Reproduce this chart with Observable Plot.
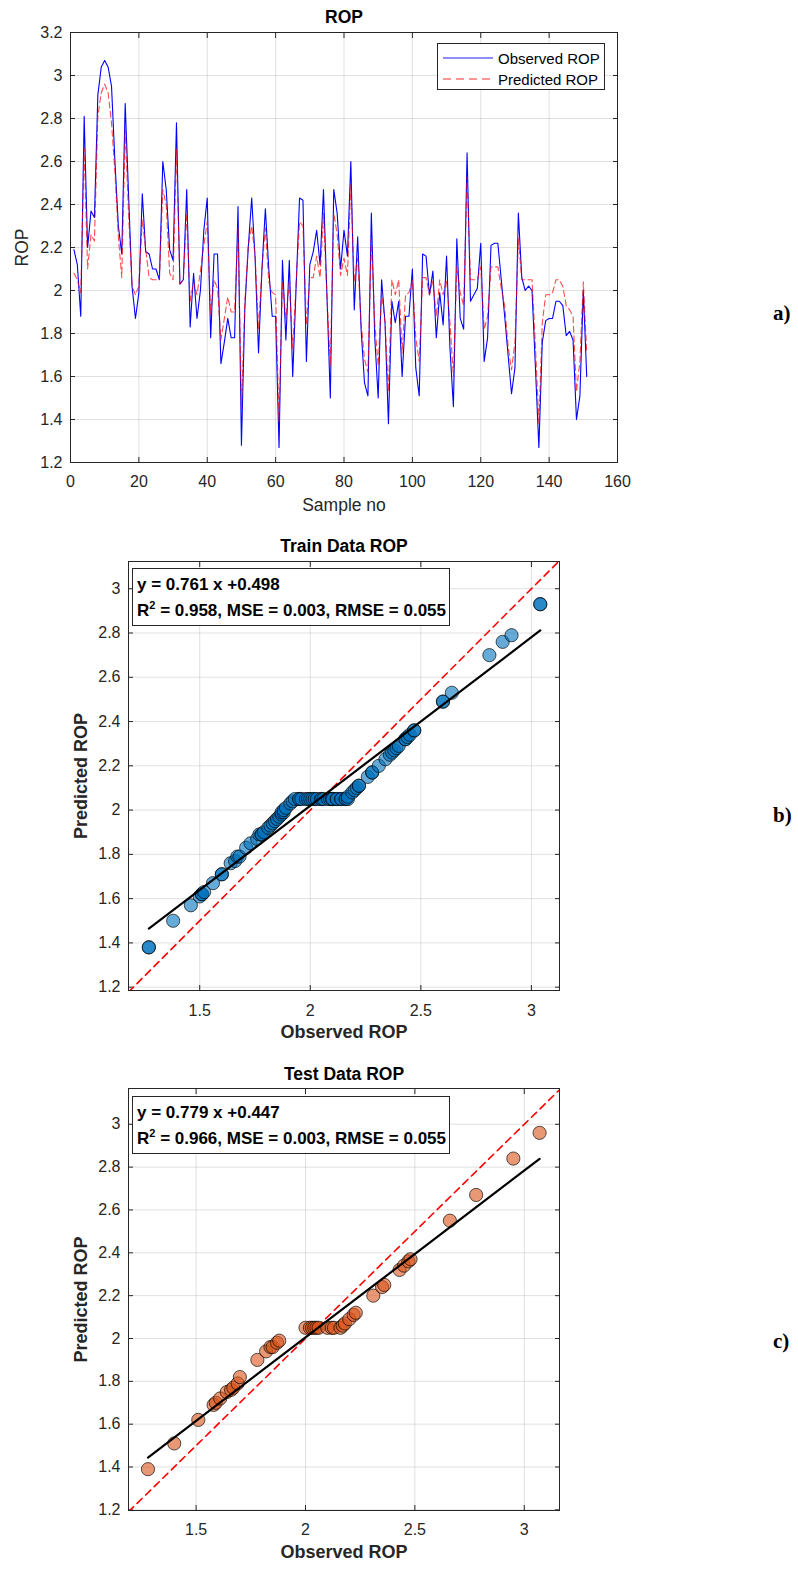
<!DOCTYPE html>
<html><head><meta charset="utf-8">
<script src="https://cdn.jsdelivr.net/npm/d3@7"></script>
<script src="https://cdn.jsdelivr.net/npm/@observablehq/plot@0.6"></script>
<style>
body{margin:0;background:#fff;}
#wrap{position:relative;width:798px;height:1574px;overflow:hidden;font-family:"Liberation Sans",Arial,sans-serif;background:#fff;}
.chart{position:absolute;left:0;}
.tag{position:absolute;font-family:"Liberation Serif","Times New Roman",serif;font-weight:bold;font-size:21px;line-height:24px;color:#000;}
.eqbox{position:absolute;background:#fff;border:1px solid #262626;font-weight:bold;font-size:17px;line-height:26px;color:#000;box-sizing:border-box;padding:3px 0 0 4px;white-space:nowrap;}
.eqbox sup{font-size:11px;line-height:0;vertical-align:7px;}
.legend{position:absolute;background:#fff;border:1px solid #262626;box-sizing:border-box;font-size:15px;color:#000;}
.legend .row{position:absolute;left:0;height:20px;display:flex;align-items:center;}
.legend svg{display:block;}
</style>
</head><body>
<div id="wrap"></div>
<script>
// ---------- data ----------
const observedROP = [2.19,2.12,1.88,2.81,2.20,2.37,2.34,2.91,3.04,3.07,3.04,2.95,2.60,2.30,2.17,2.87,2.44,2.02,1.87,1.99,
2.45,2.18,2.17,2.10,2.10,2.05,2.60,2.47,2.19,2.14,2.78,2.03,2.05,2.47,1.83,2.08,1.87,2.00,2.28,2.43,
1.78,2.17,2.17,1.66,1.76,1.87,1.78,1.78,2.39,1.28,1.92,2.20,2.43,2.15,1.71,2.10,2.38,2.10,1.88,1.88,
1.27,2.14,1.77,2.14,1.60,2.02,2.43,2.42,1.67,2.12,2.18,2.28,2.12,2.47,1.98,1.50,2.47,2.36,2.10,2.28,
2.16,2.60,1.91,2.25,1.82,1.57,1.51,2.36,1.78,1.50,2.05,1.85,1.38,1.95,1.85,1.95,1.60,1.88,1.88,2.10,
1.64,1.51,2.17,2.16,1.98,2.09,1.78,1.99,1.84,2.16,1.73,1.46,2.24,1.87,1.82,2.64,1.95,1.98,2.01,2.22,
1.67,1.78,2.21,2.22,2.22,2.05,1.88,1.70,1.52,1.64,2.36,2.06,2.00,2.02,2.00,1.64,1.27,1.76,1.86,1.87,
1.87,1.95,1.95,1.93,1.79,1.81,1.77,1.40,1.51,2.00,1.60];
const predictedROP = [2.08,2.05,1.99,2.66,2.10,2.26,2.23,2.81,2.92,2.96,2.92,2.78,2.55,2.25,2.06,2.75,2.35,2.02,1.98,2.02,
2.33,2.19,2.06,2.05,2.05,2.05,2.47,2.40,2.08,2.05,2.66,2.03,2.05,2.36,1.95,2.04,1.98,2.09,2.21,2.32,
1.89,2.05,2.01,1.77,1.87,1.97,1.90,1.90,2.29,1.45,1.95,2.21,2.30,2.16,1.82,2.10,2.29,2.04,1.99,1.98,
1.39,2.04,1.87,2.04,1.73,2.04,2.32,2.30,1.84,2.06,2.06,2.16,2.06,2.36,1.98,1.65,2.36,2.26,2.07,2.15,
2.07,2.49,2.04,2.15,1.85,1.68,1.62,2.24,1.85,1.65,1.99,1.85,1.53,2.05,1.98,2.05,1.71,1.98,1.99,2.05,
1.78,1.67,2.06,2.06,1.98,2.05,1.88,2.05,1.98,2.05,1.85,1.60,2.11,1.99,1.93,2.53,2.05,2.05,2.05,2.11,
1.82,1.88,2.11,2.11,2.11,2.01,1.93,1.74,1.63,1.76,2.24,2.05,2.05,2.05,2.05,1.74,1.38,1.85,1.98,1.98,
1.99,2.05,2.05,2.02,1.93,1.91,1.88,1.53,1.67,2.04,1.71];

const trainObserved = [1.27,1.27,1.38,1.46,1.50,1.51,1.51,1.52,1.56,1.60,1.60,1.64,1.66,1.67,1.68,1.71,1.73,1.76,1.77,1.78,
1.78,1.79,1.81,1.82,1.83,1.84,1.85,1.86,1.87,1.87,1.88,1.88,1.89,1.91,1.92,1.93,1.95,1.95,1.96,1.98,
1.99,2.00,2.01,2.02,2.03,2.05,2.05,2.06,2.08,2.09,2.10,2.10,2.10,2.12,2.12,2.14,2.14,2.16,2.16,2.17,
2.17,2.19,2.20,2.21,2.22,2.22,2.26,2.28,2.28,2.31,2.34,2.36,2.37,2.38,2.39,2.40,2.43,2.43,2.44,2.45,
2.47,2.47,2.60,2.60,2.64,2.81,2.87,2.91,3.04,3.04];
const trainPredicted = [1.38,1.38,1.50,1.57,1.61,1.62,1.62,1.63,1.67,1.71,1.71,1.76,1.77,1.79,1.79,1.83,1.85,1.87,1.89,1.89,
1.89,1.90,1.92,1.93,1.94,1.95,1.96,1.97,1.98,1.99,1.99,2.00,2.01,2.03,2.04,2.05,2.05,2.05,2.05,2.05,
2.05,2.05,2.05,2.05,2.05,2.05,2.05,2.05,2.05,2.05,2.05,2.05,2.05,2.05,2.05,2.05,2.05,2.05,2.05,2.05,
2.06,2.08,2.09,2.10,2.11,2.11,2.15,2.17,2.17,2.20,2.23,2.25,2.26,2.27,2.28,2.29,2.32,2.32,2.33,2.34,
2.36,2.36,2.49,2.49,2.53,2.70,2.76,2.79,2.93,2.93];

const testObserved = [1.28,1.40,1.51,1.58,1.59,1.61,1.64,1.66,1.67,1.69,1.70,1.78,1.82,1.84,1.85,1.87,1.88,2.00,2.02,2.03,
2.04,2.05,2.06,2.10,2.12,2.13,2.16,2.17,2.18,2.20,2.22,2.23,2.31,2.35,2.36,2.43,2.45,2.47,2.48,2.66,
2.78,2.95,3.07];
const testPredicted = [1.39,1.51,1.62,1.69,1.70,1.72,1.75,1.76,1.77,1.79,1.82,1.90,1.94,1.96,1.96,1.98,1.99,2.05,2.05,2.05,
2.05,2.05,2.05,2.05,2.05,2.05,2.05,2.06,2.07,2.09,2.11,2.12,2.20,2.24,2.25,2.32,2.34,2.36,2.37,2.55,
2.67,2.84,2.96];

// fit coefficients [slope, intercept] and stats [R2, MSE, RMSE]
const trainFit = [0.761, 0.498];
const trainStats = [0.958, 0.003, 0.055];
const testFit = [0.779, 0.447];
const testStats = [0.966, 0.003, 0.055];

// tick labels
const sampleTicks = [0,20,40,60,80,100,120,140,160];
const ropTicks = [1.2,1.4,1.6,1.8,2,2.2,2.4,2.6,2.8,3,3.2];
const scatterXTicks = [1.5,2,2.5,3];
const scatterYTicks = [1.2,1.4,1.6,1.8,2,2.2,2.4,2.6,2.8,3];

const seriesNames = ["Observed ROP","Predicted ROP"];
const panelTags = ["a)","b)","c)"];

// ---------- helpers ----------
const wrap = document.getElementById("wrap");
const fmt = d => String(+(+d).toFixed(1));
const INK = "#262626";

function matlabAxes(xTicks, yTicks, gapX, gapY) {
  const T = -5;
  return [
    Plot.gridX(xTicks, {stroke: "#000", strokeOpacity: 0.12}),
    Plot.gridY(yTicks, {stroke: "#000", strokeOpacity: 0.12}),
    Plot.axisX(xTicks, {anchor: "bottom", tickSize: T, tickPadding: gapX - T, tickFormat: fmt, label: null, fontSize: 16}),
    Plot.axisX(xTicks, {anchor: "top", tickSize: T, tickFormat: () => "", label: null}),
    Plot.axisY(yTicks, {anchor: "left", tickSize: T, tickPadding: gapY - T, tickFormat: fmt, label: null, fontSize: 16}),
    Plot.axisY(yTicks, {anchor: "right", tickSize: T, tickFormat: () => "", label: null}),
    Plot.frame({stroke: INK, strokeWidth: 1})
  ];
}

function place(node, top) {
  node.classList.add("chart");
  node.style.top = top + "px";
  wrap.appendChild(node);
}

const baseStyle = {fontFamily: "'Liberation Sans', Arial, sans-serif", fontSize: "16px", color: INK, background: "transparent", overflow: "visible"};

// ---------- chart a ----------
const rows = observedROP.map((v, i) => ({sample: i + 1, observed: v, predicted: predictedROP[i]}));

const chartA = Plot.plot({
  width: 798, height: 520,
  marginLeft: 70, marginRight: 181, marginTop: 32, marginBottom: 58,
  style: baseStyle,
  x: {domain: [0, 160]},
  y: {domain: [1.2, 3.2]},
  marks: [
    ...matlabAxes(sampleTicks, ropTicks, 13, 8),
    Plot.line(rows, {x: "sample", y: "observed", stroke: "#0000ff", strokeWidth: 1.1}),
    Plot.line(rows, {x: "sample", y: "predicted", stroke: "#ff0000", strokeOpacity: 0.7, strokeWidth: 1.1, strokeDasharray: "6,3.5"}),
    Plot.text(["ROP"], {frameAnchor: "top", lineAnchor: "middle", textAnchor: "middle", dy: -15.5, fontWeight: "bold", fontSize: 17.5, fill: "#000"}),
    Plot.text(["Sample no"], {frameAnchor: "bottom", lineAnchor: "middle", textAnchor: "middle", dy: 43, fontSize: 17.5, fill: INK}),
    Plot.text(["ROP"], {frameAnchor: "left", lineAnchor: "middle", textAnchor: "middle", dx: -48, rotate: -90, fontSize: 17.5, fill: INK})
  ]
});
place(chartA, 0);

// legend
const legend = document.createElement("div");
legend.className = "legend";
Object.assign(legend.style, {left: "437px", top: "43px", width: "168px", height: "47px"});
const legendStyles = [
  {stroke: "#0000ff", opacity: 0.6, dash: null},
  {stroke: "#ff0000", opacity: 0.55, dash: "8,5"}
];
seriesNames.forEach((name, i) => {
  const row = document.createElement("div");
  row.className = "row";
  row.style.top = (i === 0 ? 4 : 25) + "px";
  const s = legendStyles[i];
  row.innerHTML = `<svg width="60" height="20"><line x1="5" x2="55" y1="10" y2="10" stroke="${s.stroke}" stroke-opacity="${s.opacity}" stroke-width="1.6" ${s.dash ? `stroke-dasharray="${s.dash}"` : ""}/></svg><span>${name}</span>`;
  legend.appendChild(row);
});
wrap.appendChild(legend);

// ---------- scatter charts ----------
function scatterChart({obs, pred, fit, title, fill, height, marginTop, marginBottom, xDomain, yDomain, gapX, titleDy}) {
  const pts = obs.map((o, i) => ({o, p: pred[i]}));
  const ext = d3.extent(obs);
  const fitLine = ext.map(x => ({x, y: fit[0] * x + fit[1]}));
  const lo = Math.min(xDomain[0], yDomain[0]), hi = Math.max(xDomain[1], yDomain[1]);
  const diag = [lo, hi].map(v => ({x: v, y: v}));
  return Plot.plot({
    width: 798, height,
    marginLeft: 128, marginRight: 239, marginTop, marginBottom,
    style: baseStyle,
    x: {domain: xDomain},
    y: {domain: yDomain},
    marks: [
      ...matlabAxes(scatterXTicks, scatterYTicks, gapX, 8),
      Plot.line(diag, {x: "x", y: "y", stroke: "#ff0000", strokeWidth: 1.6, strokeDasharray: "7,5", clip: true}),
      Plot.dot(pts, {x: "o", y: "p", r: 6.6, fill, fillOpacity: 0.6, stroke: "#000", strokeOpacity: 0.65, strokeWidth: 1}),
      Plot.line(fitLine, {x: "x", y: "y", stroke: "#000", strokeWidth: 2.2}),
      Plot.text([title], {frameAnchor: "top", lineAnchor: "middle", textAnchor: "middle", dy: titleDy, fontWeight: "bold", fontSize: 17.5, fill: "#000"}),
      Plot.text(["Observed ROP"], {frameAnchor: "bottom", lineAnchor: "middle", textAnchor: "middle", dy: 42, fontWeight: "bold", fontSize: 18, fill: INK}),
      Plot.text(["Predicted ROP"], {frameAnchor: "left", lineAnchor: "middle", textAnchor: "middle", dx: -47, rotate: -90, fontWeight: "bold", fontSize: 18, fill: INK})
    ]
  });
}

const chartB = scatterChart({
  obs: trainObserved, pred: trainPredicted, fit: trainFit, title: "Train Data ROP", fill: "#0072BD",
  height: 520, marginTop: 41, marginBottom: 50,
  xDomain: [1.178, 3.127], yDomain: [1.185, 3.123], gapX: 14, titleDy: -15
});
place(chartB, 520);

const chartC = scatterChart({
  obs: testObserved, pred: testPredicted, fit: testFit, title: "Test Data ROP", fill: "#D95319",
  height: 534, marginTop: 48, marginBottom: 64,
  xDomain: [1.191, 3.161], yDomain: [1.197, 3.167], gapX: 13, titleDy: -14.5
});
place(chartC, 1040);

// equation boxes
function eqBox(fit, stats, top) {
  const d = document.createElement("div");
  d.className = "eqbox";
  Object.assign(d.style, {left: "132px", top: top + "px", width: "318px", height: "58px"});
  d.innerHTML = `<div>y = ${fit[0].toFixed(3)} x +${fit[1].toFixed(3)}</div>` +
    `<div>R<sup>2</sup> = ${stats[0].toFixed(3)}, MSE = ${stats[1].toFixed(3)}, RMSE = ${stats[2].toFixed(3)}</div>`;
  wrap.appendChild(d);
}
eqBox(trainFit, trainStats, 568);
eqBox(testFit, testStats, 1096);

// panel tags
const tagTops = [301, 803, 1329];
panelTags.forEach((t, i) => {
  const d = document.createElement("div");
  d.className = "tag";
  d.textContent = t;
  Object.assign(d.style, {left: "773px", top: tagTops[i] + "px"});
  wrap.appendChild(d);
});
</script>
</body></html>
